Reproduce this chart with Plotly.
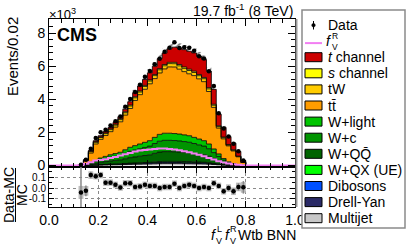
import numpy as np
import plotly.graph_objects as go

# ---------------- data (units of 10^3 events per 0.02) ----------------
bin_width = 0.02
first_edge = 0.12          # lower edge of first filled bin
n_all_bins = 50            # 0..1 in steps of 0.02

multijet = [0.001, 0.006, 0.012, 0.018, 0.027, 0.033, 0.039, 0.043, 0.048, 0.057, 0.066, 0.072, 0.078, 0.084, 0.090, 0.102, 0.113, 0.117,
            0.117, 0.116, 0.114, 0.111, 0.108, 0.102, 0.096, 0.090, 0.078, 0.060, 0.042, 0.025, 0.013, 0.007, 0.003, 0.001]
drell_yan = [0.001, 0.004, 0.007, 0.011, 0.016, 0.019, 0.023, 0.025, 0.028, 0.033, 0.039, 0.042, 0.046, 0.049, 0.053, 0.060, 0.066, 0.068,
             0.068, 0.068, 0.067, 0.065, 0.063, 0.060, 0.056, 0.053, 0.046, 0.035, 0.025, 0.015, 0.008, 0.004, 0.002, 0.001]
dibosons = [0.000, 0.002, 0.003, 0.005, 0.007, 0.008, 0.010, 0.011, 0.012, 0.014, 0.017, 0.018, 0.020, 0.021, 0.023, 0.026, 0.028, 0.029,
            0.029, 0.029, 0.029, 0.028, 0.027, 0.026, 0.024, 0.023, 0.020, 0.015, 0.011, 0.006, 0.003, 0.002, 0.001, 0.000]
w_qx = [0.000, 0.002, 0.004, 0.006, 0.009, 0.011, 0.013, 0.014, 0.016, 0.019, 0.022, 0.024, 0.026, 0.028, 0.030, 0.034, 0.038, 0.039,
        0.039, 0.039, 0.038, 0.037, 0.036, 0.034, 0.032, 0.030, 0.026, 0.020, 0.014, 0.008, 0.004, 0.002, 0.001, 0.000]
w_qq = [0.006, 0.030, 0.060, 0.090, 0.135, 0.165, 0.195, 0.216, 0.240, 0.285, 0.330, 0.360, 0.390, 0.420, 0.450, 0.510, 0.564, 0.585,
        0.585, 0.579, 0.570, 0.555, 0.540, 0.510, 0.480, 0.450, 0.390, 0.300, 0.210, 0.126, 0.066, 0.036, 0.015, 0.006]
w_c = [0.007, 0.034, 0.070, 0.104, 0.158, 0.193, 0.228, 0.252, 0.280, 0.333, 0.385, 0.420, 0.455, 0.490, 0.525, 0.595, 0.658, 0.683,
       0.683, 0.676, 0.665, 0.648, 0.630, 0.595, 0.560, 0.525, 0.455, 0.350, 0.245, 0.147, 0.077, 0.042, 0.017, 0.007]
w_light = [0.005, 0.022, 0.044, 0.066, 0.098, 0.121, 0.142, 0.159, 0.176, 0.209, 0.241, 0.264, 0.285, 0.308, 0.329, 0.373, 0.413, 0.429,
           0.429, 0.423, 0.417, 0.406, 0.396, 0.373, 0.352, 0.329, 0.285, 0.220, 0.153, 0.093, 0.049, 0.027, 0.011, 0.005]
ttbar = [0.023, 0.175, 0.55, 1.00, 1.13, 1.265, 1.395, 1.60, 1.84, 2.095, 2.345, 2.73, 2.98, 3.205, 3.435, 3.55, 3.71, 3.885,
         4.005, 4.02, 3.92, 3.82, 3.74, 3.73, 3.635, 3.565, 3.17, 2.51, 1.56, 1.19, 0.965, 0.76, 0.475, 0.16]
tw = [0.005, 0.04, 0.08, 0.10, 0.11, 0.11, 0.12, 0.12, 0.13, 0.14, 0.15, 0.16, 0.16, 0.17, 0.17, 0.18, 0.19, 0.19,
      0.20, 0.20, 0.20, 0.20, 0.20, 0.19, 0.19, 0.18, 0.16, 0.13, 0.09, 0.07, 0.05, 0.04, 0.025, 0.01]
s_channel = [0.002, 0.015, 0.03, 0.04, 0.04, 0.045, 0.045, 0.05, 0.05, 0.055, 0.055, 0.06, 0.06, 0.065, 0.065, 0.07, 0.07, 0.075,
             0.075, 0.08, 0.08, 0.08, 0.08, 0.08, 0.075, 0.075, 0.07, 0.06, 0.05, 0.04, 0.035, 0.03, 0.02, 0.01]
t_channel = [0.0, 0.02, 0.04, 0.06, 0.07, 0.08, 0.09, 0.11, 0.13, 0.16, 0.20, 0.25, 0.30, 0.36, 0.43, 0.50, 0.60, 0.70,
             0.82, 0.92, 1.00, 1.05, 1.08, 1.10, 1.10, 1.08, 1.00, 0.90, 0.70, 0.58, 0.48, 0.40, 0.28, 0.10]
data = [0.048, 0.341, 1.008, 1.665, 2.016, 2.153, 2.415, 2.678, 2.965, 3.553, 4.023, 4.444, 4.872, 5.356, 5.712, 6.12, 6.45, 6.868,
        7.12, 7.44, 7.10, 7.14, 7.107, 6.936, 6.60, 6.464, 5.70, 4.807, 3.162, 2.231, 1.75, 1.31, 0.859, 0.302]
signal_fvr = [0.03, 0.10, 0.20, 0.30, 0.33, 0.38, 0.45, 0.52, 0.60, 0.68, 0.76, 0.84, 0.90, 0.94, 0.97, 1.00, 1.02, 1.02,
              1.00, 0.97, 0.92, 0.86, 0.80, 0.73, 0.65, 0.56, 0.46, 0.36, 0.26, 0.18, 0.12, 0.07, 0.04, 0.01]
mc_unc = [0.01, 0.02, 0.04, 0.06, 0.07, 0.08, 0.09, 0.10, 0.12, 0.14, 0.15, 0.17, 0.19, 0.20, 0.22, 0.24, 0.25, 0.27,
          0.28, 0.28, 0.28, 0.28, 0.27, 0.27, 0.26, 0.25, 0.23, 0.18, 0.12, 0.09, 0.07, 0.05, 0.03, 0.01]
ratio_band = [0.06, 0.045, 0.035, 0.03, 0.03, 0.03, 0.03, 0.03, 0.03, 0.03, 0.03, 0.03, 0.03, 0.03, 0.03, 0.03, 0.03, 0.03,
              0.03, 0.03, 0.03, 0.03, 0.03, 0.03, 0.03, 0.03, 0.03, 0.03, 0.03, 0.03, 0.035, 0.035, 0.04, 0.05]
ratio_err = [0.40, 0.05, 0.03, 0.025, 0.022, 0.021, 0.02, 0.019, 0.018, 0.017, 0.016, 0.015, 0.014, 0.014, 0.013, 0.013, 0.012, 0.012,
             0.012, 0.012, 0.012, 0.012, 0.012, 0.012, 0.012, 0.012, 0.013, 0.015, 0.018, 0.021, 0.024, 0.028, 0.034, 0.058]

x_ticks = [0.0, 0.2, 0.4, 0.6, 0.8, 1.0]
x_ticklabels = ["0.0", "0.2", "0.4", "0.6", "0.8", "1.0"]
y_ticks = [0, 2, 4, 6, 8]
y_ticklabels = ["0", "2", "4", "6", "8"]
r_ticks = [-0.1, 0.0, 0.1]
r_ticklabels = ["-0.1", "0.0", "0.1"]

components = [  # bottom -> top
    ("Multijet", multijet, "#c8c8c8"),
    ("Drell-Yan", drell_yan, "#2a2a66"),
    ("Dibosons", dibosons, "#0050ff"),
    ("W+QX (UE)", w_qx, "#00ff00"),
    ("W+QQ̄", w_qq, "#006400"),
    ("W+c", w_c, "#009400"),
    ("W+light", w_light, "#00c400"),
    ("tt̄", ttbar, "#ff9c00"),
    ("tW", tw, "#ffcc00"),
    ("s channel", s_channel, "#ffff00"),
    ("t channel", t_channel, "#cc0000"),
]
PINK = "#f27ef2"

# ---------------- geometry ----------------
FIG_W, FIG_H = 407, 248
ML, MR, MT, MB = 49, 112, 19, 41
PW = FIG_W - ML - MR
PH = FIG_H - MT - MB
split = (FIG_H - MB - 167) / PH
FONT = "Liberation Sans, Arial, Helvetica, sans-serif"


def px_x(p):
    return (p - ML) / PW


def px_y(p):
    return (FIG_H - MB - p) / PH


n = len(data)
lo_edges = first_edge + bin_width * np.arange(n)
centers = lo_edges + bin_width / 2


def step_path(vals):
    x = [lo_edges[0]] + list(lo_edges) + [lo_edges[-1] + bin_width] * 2
    y = [0.0] + list(vals) + [vals[-1], 0.0]
    return x, y


fig = go.Figure()

# stacked histogram as filled steps
cum = np.zeros(n)
for i, (name, vals, col) in enumerate(components):
    cum = cum + np.array(vals)
    x, y = step_path(cum)
    fig.add_trace(go.Scatter(x=x, y=y, mode="lines", line=dict(color="black", width=0.8, shape="hv"),
                             fill="tozeroy" if i == 0 else "tonexty", fillcolor=col,
                             xaxis="x", yaxis="y", hoverinfo="skip"))
mc_total = cum

# uncertainty hatch
fig.add_trace(go.Bar(x=centers, y=2 * np.array(mc_unc), base=mc_total - np.array(mc_unc), width=bin_width,
                     marker=dict(color="rgba(0,0,0,0)", line=dict(width=0),
                                 pattern=dict(shape="/", fgcolor="black", size=5, solidity=0.4)),
                     xaxis="x", yaxis="y", hoverinfo="skip"))

# fVR signal line over full range
all_lo = bin_width * np.arange(n_all_bins)
sig_full = np.zeros(n_all_bins)
i0 = int(round(first_edge / bin_width))
sig_full[i0:i0 + n] = signal_fvr
fig.add_trace(go.Scatter(x=list(all_lo) + [1.0], y=list(sig_full) + [sig_full[-1]], mode="lines",
                         line=dict(color=PINK, width=2, shape="hv"), xaxis="x", yaxis="y", hoverinfo="skip"))

# data points
data_arr = np.array(data)
fig.add_trace(go.Scatter(x=centers, y=data_arr, mode="markers",
                         marker=dict(color="black", size=4.5),
                         error_y=dict(type="data", array=np.sqrt(data_arr * 1000) / 1000, color="black",
                                      thickness=1, width=0),
                         xaxis="x", yaxis="y", hoverinfo="skip"))

# ratio panel
ratio = data_arr / mc_total - 1
rb = np.array(ratio_band)
fig.add_trace(go.Bar(x=centers, y=2 * rb, base=ratio - rb, width=bin_width,
                     marker=dict(color="#bdbdbd", line=dict(width=0)), xaxis="x2", yaxis="y2", hoverinfo="skip"))
fig.add_trace(go.Scatter(x=centers, y=ratio, mode="markers", marker=dict(color="black", size=4.5),
                         error_y=dict(type="data", array=ratio_err, color="#888888", thickness=1.5, width=0),
                         xaxis="x2", yaxis="y2", hoverinfo="skip"))

axis_common = dict(showline=True, linecolor="black", linewidth=1, mirror="ticks", ticks="inside",
                   tickcolor="black", zeroline=False, automargin=False)

fig.update_layout(
    width=FIG_W, height=FIG_H, margin=dict(l=ML, r=MR, t=MT, b=MB, autoexpand=False),
    paper_bgcolor="white", plot_bgcolor="white", showlegend=False, barmode="overlay",
    font=dict(family=FONT, color="black"),
    xaxis=dict(domain=[0, 1], range=[0, 1], anchor="y", tickvals=x_ticks, showticklabels=False, ticklen=7,
               showgrid=False, minor=dict(ticks="inside", ticklen=4, dtick=0.05, tickcolor="black", showgrid=False),
               **axis_common),
    yaxis=dict(domain=[split, 1], range=[-0.09, 8.85], anchor="x", tickvals=y_ticks, ticktext=y_ticklabels,
               ticklen=7, showgrid=False, tickfont=dict(family=FONT, size=14, color="black"),
               minor=dict(ticks="inside", ticklen=4, dtick=0.4, tickcolor="black", showgrid=False),
               **axis_common),
    xaxis2=dict(domain=[0, 1], range=[0, 1], anchor="y2", tickvals=x_ticks, ticktext=x_ticklabels, ticklen=6,
                showgrid=True, gridcolor="#8a8a8a", griddash="dot", gridwidth=1,
                tickfont=dict(family=FONT, size=14, color="black"),
                minor=dict(ticks="inside", ticklen=3, dtick=0.05, tickcolor="black", showgrid=False),
                **axis_common),
    yaxis2=dict(domain=[0, split], range=[-0.175, 0.195], anchor="x2", tickvals=r_ticks, ticktext=r_ticklabels,
                ticklen=5, showgrid=True, gridcolor="#8a8a8a", griddash="dot", gridwidth=1,
                tickfont=dict(family=FONT, size=10, color="black"),
                minor=dict(ticks="inside", ticklen=3, dtick=0.05, tickcolor="black", showgrid=False),
                **axis_common),
)

# gray right frame
fig.add_shape(type="line", xref="paper", yref="paper", x0=px_x(296.5), x1=px_x(296.5), y0=0, y1=1,
              line=dict(color="#9a9a9a", width=2))


def text(px, py, s, size=14, xanchor="left", yanchor="middle", angle=0):
    fig.add_annotation(x=px_x(px), y=px_y(py), xref="paper", yref="paper", text=s, showarrow=False,
                       xanchor=xanchor, yanchor=yanchor, textangle=angle, borderpad=0,
                       font=dict(family=FONT, size=size, color="black"))


# titles
text(12, 57, "Events/0.02", size=15, xanchor="center", angle=-90)
text(48, 14, "×10<sup>3</sup>", size=13)
text(56, 35, "<b>CMS</b>", size=18)
text(294, 10, "19.7 fb<sup>-1</sup> (8 TeV)", size=14, xanchor="right")
text(9, 195, "Data-MC", size=14, xanchor="center", angle=-90)
text(22, 195, "MC", size=14, xanchor="center", angle=-90)
fig.add_shape(type="line", xref="paper", yref="paper", x0=px_x(15.5), x1=px_x(15.5), y0=px_y(168), y1=px_y(222),
              line=dict(color="black", width=1))

# x title: f_V^L f_V^R Wtb BNN
text(297, 235, "Wtb BNN", size=14, xanchor="right")
text(214, 235, "<i>f</i>", size=14, xanchor="center")
text(219, 228.5, "L", size=9, xanchor="center")
text(219, 241, "V", size=9, xanchor="center")
text(228, 235, "<i>f</i>", size=14, xanchor="center")
text(233, 228.5, "R", size=9, xanchor="center")
text(233, 241, "V", size=9, xanchor="center")

# legend (manual)
fig.add_shape(type="rect", xref="paper", yref="paper", x0=px_x(302), x1=px_x(405), y0=px_y(228), y1=px_y(10),
              line=dict(color="#8a8a8a", width=1.5), fillcolor="white", layer="above")
leg_y0, leg_dy = 25, 16.1
# Data
fig.add_shape(type="line", xref="paper", yref="paper", x0=px_x(313.5), x1=px_x(313.5), y0=px_y(29.5), y1=px_y(21),
              line=dict(color="black", width=1))
fig.add_shape(type="circle", xref="paper", yref="paper", x0=px_x(311.7), x1=px_x(315.3), y0=px_y(27), y1=px_y(23.4),
              line=dict(color="black", width=0.5), fillcolor="black")
text(327, leg_y0, "Data")
# fVR
y1 = leg_y0 + leg_dy
fig.add_shape(type="line", xref="paper", yref="paper", x0=px_x(305), x1=px_x(322), y0=px_y(y1 + 2), y1=px_y(y1 + 2),
              line=dict(color=PINK, width=2))
text(329, y1, "<i>f</i>", size=14, xanchor="center")
text(335, y1 - 5, "R", size=8.5, xanchor="center")
text(335, y1 + 5.5, "V", size=8.5, xanchor="center")

legend_labels = ["<i>t</i> channel", "<i>s</i> channel", "tW", "tt̄", "W+light", "W+c", "W+QQ̄", "W+QX (UE)",
                 "Dibosons", "Drell-Yan", "Multijet"]
legend_colors = [c for _, _, c in components][::-1]
for k, (lab, col) in enumerate(zip(legend_labels, legend_colors)):
    yy = leg_y0 + leg_dy * (k + 2)
    fig.add_shape(type="rect", xref="paper", yref="paper", x0=px_x(305), x1=px_x(322), y0=px_y(yy + 4.5),
                  y1=px_y(yy - 4.5), line=dict(color="black", width=1), fillcolor=col, layer="above")
    text(327, yy, lab)

fig.write_html("out.html", config={"displayModeBar": False},
               post_script="document.body.style.margin='0';document.body.style.padding='0';")
